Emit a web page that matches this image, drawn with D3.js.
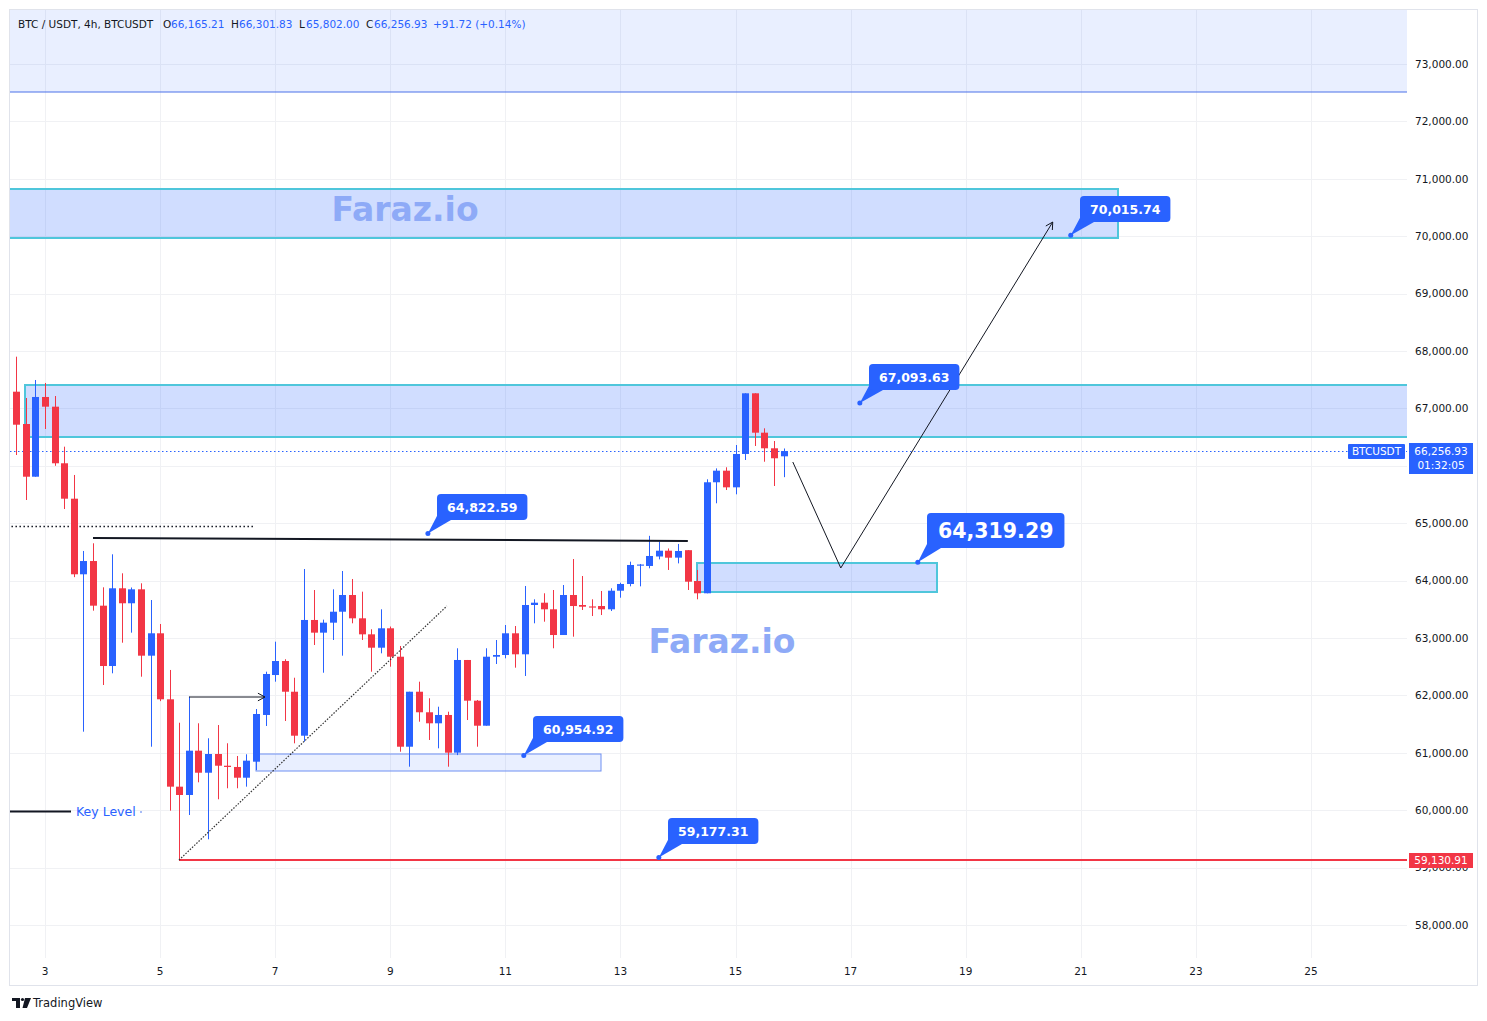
<!DOCTYPE html>
<html>
<head>
<meta charset="utf-8">
<script src="https://cdn.jsdelivr.net/npm/d3@7/dist/d3.min.js"></script>
<style>
  body{
    margin: 0px;
    padding: 0px;
    background: #ffffff;
  }
  svg{
    display: block;
    font-family: "DejaVu Sans", sans-serif;
  }
</style>
</head>
<body>
<div id="svg_cont"></div>
<script>

// ---- data (4h candles, BTC/USDT) ----
var firstCandleDay = 2.5;          // day-of-month of first candle
var candleHours = 4;
var opens  = [67291,66728,65810,67199,67030,66044,65427,64110,64341,63563,62512,63866,63605,63848,62692,63082,61932,60410,60265,61037,
              60653,60979,60775,60753,60566,60845,61659,62355,62599,62064,61298,63314,63093,63267,63458,63749,63343,63064,62831,63169,
              62674,61106,62064,61706,61514,61659,61002,62617,61908,61472,62674,62704,63082,62716,63575,63615,63500,63052,63749,63575,
              63550,63557,63500,63824,63941,64260,64255,64420,64521,64400,64530,63993,63779,65713,65915,65625,66206,67263,66577,66305,
              66165.21];
var highs  = [67901,67181,67495,67443,67216,66333,65840,64516,64650,63883,64458,64127,63880,63953,63662,63244,62443,61524,61977,61514,
              61253,61484,61166,60944,60974,61763,62413,62936,62630,62308,64202,63836,63320,63848,64167,64028,63807,63152,63500,63200,
              62861,62064,62239,61950,61803,61716,62821,62617,61920,62821,62965,63226,63209,63906,63674,63779,63836,63923,64376,64080,
              63674,63819,63866,63963,64330,64290,64780,64678,64560,64638,64530,64185,65765,65955,65974,66362,67263,67263,66653,66432,
              66301.83];
var lows   = [66188,65404,65810,66641,66000,65247,64060,61368,63476,62181,62385,62918,63093,62326,61106,61900,59992,59130.91,59916,60486,
              59493,60190,60382,60382,60410,60700,61467,62239,61554,61165,61194,62878,62395,62965,62692,63256,62965,62413,62733,62500,
              61019,60758,61542,61223,61078,60758,60960,61571,61106,61472,62547,62646,62483,62338,63256,63284,62821,63052,63023,63488,
              63383,63400,63470,63702,63900,63900,64214,64370,64185,64300,63836,63674,63779,65347,65578,65503,66101,66345,66071,65648,
              65802.00];
var closes = [66716,65810,67199,67030,66044,65427,64110,64341,63563,62512,63866,63605,63848,62692,63082,61932,60410,60265,61037,60653,
              60979,60775,60753,60566,60863,61676,62373,62599,62064,61298,63314,63093,63267,63458,63749,63343,63064,62831,63169,62674,
              61106,62064,61706,61514,61659,61002,62617,61908,61472,62674,62704,63082,62716,63575,63615,63500,63052,63749,63557,63545,
              63530,63500,63824,63941,64272,64280,64429,64521,64399,64516,63981,63779,65713,65915,65625,66206,67263,66577,66305,66131,
              66256.93];

var priceTicks = d3.range(58000, 73001, 1000);
var hiddenTicks = [66000];          // covered by the last-price label
var dayTicks = d3.range(3, 26, 2);

// drawn objects, in (day, price)
var zoneDays   = [[2, 27], [2, 21.66], [2.653, 27], [14.327, 18.497], [6.666, 12.66]];
var zonePrices = [[72512, 75000], [69969, 70822], [66502, 67408], [63801, 64307], [60683, 60979]];
var zoneKinds  = ['band', 'zone', 'zone', 'zone', 'light'];

var calloutDays   = [20.825, 17.16, 9.654, 18.167, 11.32, 13.667];
var calloutPrices = [70015.74, 67093.63, 64822.59, 64319.29, 60954.92, 59177.31];
var bigCallout = 3;

var resistanceLine = [[3.834, 64742], [14.171, 64690]];
var dottedLevel    = [[2, 64951], [6.648, 64951]];
var smallArrow     = [[5.502, 61972], [6.822, 61972]];
var trendDiag      = [[5.328, 59130.91], [9.984, 63557]];
var forecastPath   = [[15.995, 66066], [16.829, 64220], [20.512, 70247]];
var keyLevel       = {day: 5.328, price: 59130.91};
var lastPrice      = 66256.93;
var watermarks     = [[9.256, 70474], [14.764, 62948]];

var headerParts = [
  {t: 'BTC / USDT, 4h, BTCUSDT', c: '#131722', x: 18},
  {t: 'O', c: '#131722', x: 163}, {t: '66,165.21', c: '#2962ff', x: 171},
  {t: 'H', c: '#131722', x: 231}, {t: '66,301.83', c: '#2962ff', x: 239},
  {t: 'L', c: '#131722', x: 299}, {t: '65,802.00', c: '#2962ff', x: 306},
  {t: 'C', c: '#131722', x: 366}, {t: '66,256.93', c: '#2962ff', x: 374},
  {t: '+91.72 (+0.14%)', c: '#2962ff', x: 433}
];

// ---- setup ----
var W = 1487, H = 1021;
var plot = {l: 10, r: 1407, t: 10, b: 958};
var blue = '#2962ff', red = '#f23645', cyan = '#4fc6db';
var fmt = d3.format(',.2f');

var x = d3.scaleLinear().domain([3, 25]).range([45, 1311]);
var y = d3.scaleLinear().domain([58000, 73000]).range([925, 64]);

var svg = d3.select('#svg_cont').append('svg')
  .attr('width', W)
  .attr('height', H);

svg.append('rect').attr('width', W).attr('height', H).attr('fill', '#fff');

svg.append('defs').append('clipPath').attr('id', 'plotclip')
  .append('rect')
  .attr('x', plot.l).attr('y', plot.t)
  .attr('width', plot.r - plot.l).attr('height', plot.b - plot.t);

var g = svg.append('g').attr('clip-path', 'url(#plotclip)');

// grid
g.selectAll('.hgrid').data(priceTicks).enter().append('line')
  .attr('x1', plot.l).attr('x2', plot.r)
  .attr('y1', d => Math.round(y(d)) + 0.5).attr('y2', d => Math.round(y(d)) + 0.5)
  .attr('stroke', '#f0f1f4');
g.selectAll('.vgrid').data(dayTicks).enter().append('line')
  .attr('y1', plot.t).attr('y2', plot.b)
  .attr('x1', d => Math.round(x(d)) + 0.5).attr('x2', d => Math.round(x(d)) + 0.5)
  .attr('stroke', '#f0f1f4');

// zones
zoneDays.forEach(function(dd, i) {
  var pp = zonePrices[i], kind = zoneKinds[i];
  var x0 = x(dd[0]), x1 = x(dd[1]), y0 = y(pp[1]), y1 = y(pp[0]);
  var fill = kind == 'zone' ? 'rgba(41,98,255,0.22)' : 'rgba(41,98,255,0.1)';
  var stroke = kind == 'band' ? '#4a70e8' : (kind == 'light' ? '#6e90f2' : cyan);
  g.append('rect')
    .attr('x', Math.round(x0)).attr('y', Math.round(y0))
    .attr('width', Math.round(x1 - x0)).attr('height', Math.round(y1 - y0))
    .attr('fill', fill)
    .attr('stroke', stroke)
    .attr('stroke-width', kind == 'zone' ? 2 : 1);
});

// watermarks
g.selectAll('.wm').data(watermarks).enter().append('text')
  .attr('x', d => x(d[0])).attr('y', d => y(d[1]))
  .attr('dy', '0.36em')
  .attr('text-anchor', 'middle')
  .attr('font-size', 33).attr('font-weight', 'bold')
  .attr('fill', '#8eaaf7')
  .text('Faraz.io');

// last price dotted line
g.append('line')
  .attr('x1', plot.l).attr('x2', plot.r)
  .attr('y1', Math.round(y(lastPrice)) + 0.5).attr('y2', Math.round(y(lastPrice)) + 0.5)
  .attr('stroke', blue).attr('stroke-dasharray', '1.5,2.5');

// dotted level at left
g.append('line')
  .attr('x1', x(dottedLevel[0][0])).attr('x2', x(dottedLevel[1][0]))
  .attr('y1', Math.round(y(dottedLevel[0][1])) + 0.5).attr('y2', Math.round(y(dottedLevel[1][1])) + 0.5)
  .attr('stroke', '#131722').attr('stroke-width', 1.3).attr('stroke-dasharray', '1.5,2.5');

// candles
var candles = opens.map(function(o, i) {
  return {day: firstCandleDay + i * candleHours / 24, o: o, h: highs[i], l: lows[i], c: closes[i]};
});

var cg = g.selectAll('.candle').data(candles).enter().append('g');
cg.append('line')
  .attr('x1', d => Math.round(x(d.day)) + 0.5).attr('x2', d => Math.round(x(d.day)) + 0.5)
  .attr('y1', d => y(d.h)).attr('y2', d => y(d.l))
  .attr('stroke', d => d.c >= d.o ? blue : red);
cg.append('rect')
  .attr('x', d => Math.round(x(d.day)) - 3)
  .attr('width', 7)
  .attr('y', d => y(Math.max(d.o, d.c)))
  .attr('height', d => Math.max(1, Math.abs(y(d.o) - y(d.c))))
  .attr('fill', d => d.c >= d.o ? blue : red);

// key level line (red)
g.append('line')
  .attr('x1', x(keyLevel.day)).attr('x2', plot.r)
  .attr('y1', Math.round(y(keyLevel.price))).attr('y2', Math.round(y(keyLevel.price)))
  .attr('stroke', red).attr('stroke-width', 2);

var line = d3.line().x(d => x(d[0])).y(d => y(d[1]));

g.append('path').attr('d', line(resistanceLine))
  .attr('fill', 'none').attr('stroke', '#131722').attr('stroke-width', 2);

g.append('path').attr('d', line(trendDiag))
  .attr('fill', 'none').attr('stroke', '#333').attr('stroke-width', 1.2).attr('stroke-dasharray', '1.5,1.5');

g.append('path').attr('d', line(smallArrow))
  .attr('fill', 'none').attr('stroke', '#131722').attr('stroke-width', 1);

g.append('path').attr('d', line(forecastPath))
  .attr('fill', 'none').attr('stroke', '#131722').attr('stroke-width', 1);

function arrowHead(p0, p1) {
  var x0 = x(p0[0]), y0 = y(p0[1]), x1 = x(p1[0]), y1 = y(p1[1]);
  var a = Math.atan2(y1 - y0, x1 - x0), len = 8;
  var pts = [[x1 - len * Math.cos(a - 0.5), y1 - len * Math.sin(a - 0.5)], [x1, y1],
             [x1 - len * Math.cos(a + 0.5), y1 - len * Math.sin(a + 0.5)]];
  g.append('path').attr('d', d3.line()(pts))
    .attr('fill', 'none').attr('stroke', '#131722').attr('stroke-width', 1);
}
arrowHead(smallArrow[0], smallArrow[1]);
arrowHead(forecastPath[1], forecastPath[2]);

// callouts
var cl = svg.append('g');
calloutDays.forEach(function(day, i) {
  var price = calloutPrices[i];
  var big = i == bigCallout;
  var ax = x(day), ay = y(price);
  var fs = big ? 20.5 : 12.5, bh = big ? 35 : 26, pad = big ? 11 : 10;
  var bx = Math.round(ax + 9), by = Math.round(ay - (big ? 14 : 13));
  var grp = cl.append('g');
  grp.append('path')
    .attr('d', d3.line()([[ax, ay], [bx + 1, by - 6], [bx + 14, by]]) + 'Z')
    .attr('fill', blue);
  var box = grp.append('rect');
  var t = grp.append('text')
    .attr('font-size', fs).attr('font-weight', 'bold').attr('fill', '#fff')
    .attr('x', bx + pad).attr('y', by - bh / 2).attr('dy', '0.36em')
    .text(fmt(price));
  var tw = t.node().getComputedTextLength();
  box.attr('x', bx).attr('y', by - bh).attr('width', tw + 2 * pad).attr('height', bh)
    .attr('rx', 4).attr('fill', blue);
  t.raise();
  grp.append('circle').attr('cx', ax).attr('cy', ay).attr('r', 2.5).attr('fill', blue);
});

// legend "Key Level"
svg.append('line').attr('x1', 10).attr('x2', 71).attr('y1', 811.5).attr('y2', 811.5)
  .attr('stroke', '#131722').attr('stroke-width', 2);
svg.append('text').attr('x', 76).attr('y', 811).attr('dy', '0.36em')
  .attr('font-size', 12.5).attr('fill', blue).text('Key Level');
svg.append('circle').attr('cx', 141).attr('cy', 812).attr('r', 1).attr('fill', '#8aa6f5');

// header
svg.selectAll('.hdr').data(headerParts).enter().append('text')
  .attr('x', d => d.x).attr('y', 24).attr('dy', '0.36em')
  .attr('font-size', 10.5).attr('fill', d => d.c)
  .text(d => d.t);

// right price axis
svg.selectAll('.ylab').data(priceTicks.filter(d => hiddenTicks.indexOf(d) < 0)).enter().append('text')
  .attr('x', 1415).attr('y', d => y(d)).attr('dy', '0.36em')
  .attr('font-size', 10.5).attr('fill', '#131722')
  .text(d => fmt(d));

// bottom day axis
svg.selectAll('.xlab').data(dayTicks).enter().append('text')
  .attr('x', d => x(d)).attr('y', 971).attr('dy', '0.36em')
  .attr('text-anchor', 'middle')
  .attr('font-size', 10.5).attr('fill', '#131722')
  .text(d => d);

// price labels on axis
var py = Math.round(y(lastPrice));
svg.append('rect').attr('x', 1348).attr('y', py - 7).attr('width', 57).attr('height', 15).attr('rx', 1).attr('fill', blue);
svg.append('text').attr('x', 1376.5).attr('y', py + 0.5).attr('dy', '0.36em').attr('text-anchor', 'middle')
  .attr('font-size', 10.5).attr('fill', '#fff').text('BTCUSDT');
svg.append('rect').attr('x', 1409).attr('y', py - 8).attr('width', 64).attr('height', 31).attr('fill', blue);
svg.append('text').attr('x', 1441).attr('y', py).attr('dy', '0.36em').attr('text-anchor', 'middle')
  .attr('font-size', 10.5).attr('fill', '#fff').text(fmt(lastPrice));
svg.append('text').attr('x', 1441).attr('y', py + 14).attr('dy', '0.36em').attr('text-anchor', 'middle')
  .attr('font-size', 10.5).attr('fill', '#fff').text('01:32:05');

var ky = Math.round(y(keyLevel.price));
svg.append('rect').attr('x', 1409).attr('y', ky - 7).attr('width', 64).attr('height', 15).attr('fill', red);
svg.append('text').attr('x', 1441).attr('y', ky + 0.5).attr('dy', '0.36em').attr('text-anchor', 'middle')
  .attr('font-size', 10.5).attr('fill', '#fff').text(fmt(keyLevel.price));

// frame
svg.append('rect').attr('x', 9.5).attr('y', 9.5).attr('width', 1468).attr('height', 976)
  .attr('fill', 'none').attr('stroke', '#e0e3eb');

// TradingView mark
var logo = svg.append('g').attr('fill', '#131722');
logo.append('rect').attr('x', 12).attr('y', 998).attr('width', 8).attr('height', 3);
logo.append('rect').attr('x', 16).attr('y', 998).attr('width', 4).attr('height', 10);
logo.append('circle').attr('cx', 22.5).attr('cy', 999.5).attr('r', 1.6);
logo.append('path').attr('d', 'M25,998 L31,998 L27,1008 L22.5,1008 Z');
svg.append('text').attr('x', 33).attr('y', 1003).attr('dy', '0.36em')
  .attr('font-size', 11.5).attr('fill', '#131722').text('TradingView');

</script>
</body>
</html>
